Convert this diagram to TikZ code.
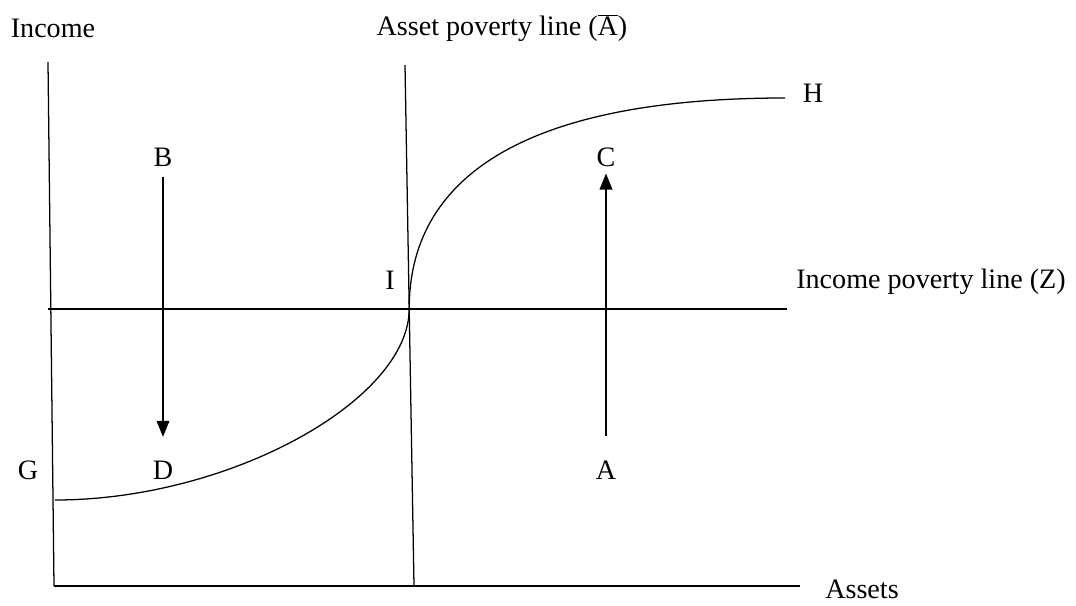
\documentclass[tikz,border=0pt]{standalone}
\usepackage{fontspec}
\setmainfont{Liberation Serif}
\usetikzlibrary{arrows.meta}

\begin{document}
\begin{tikzpicture}[
    x=0.025cm, y=-0.025cm,
    every node/.style={font=\fontsize{20}{23}\selectfont},
    axis/.style={draw,line width=1.5pt},
    guide/.style={draw,line width=0.9pt},
    arr/.style={-{Triangle[length=4mm,width=3.2mm]},thick}
]
\useasboundingbox (0,0) rectangle (1076,605);

% axes and poverty lines
\coordinate (ytop) at (48,62);
\coordinate (orig) at (54,586);
\coordinate (xend) at (800,586);
\coordinate (atop) at (405,65);
\coordinate (abot) at (414,586);
\coordinate (zl) at (48,309);
\coordinate (zr) at (787,309);
\coordinate (g) at (55,500);
\coordinate (i) at (409.2,309);
\coordinate (h) at (785,98);

\draw[guide] (ytop) -- (orig);
\draw[axis] (orig) -- (xend);
\draw[guide] (atop) -- (abot);
\draw[guide] (zl) -- (zr);
\draw[line width=0.9pt] (g) .. controls (230,500) and (409,400) .. (i)
                 .. controls (409,180) and (520,98) .. (h);

\node (income) at (53,28) {Income};
\node (apl) at (502,28) {Asset poverty line (\(\overline{\hbox{A}}\))};
\node (ipl) at (931,282) {Income poverty line (Z)};
\node[inner sep=0pt] (assets) at (862,589) {Assets};
\node (H) at (813,93) {H};
\node (B) at (163,157) {B};
\node (C) at (606,157) {C};
\node (I) at (390,280) {I};
\node (G) at (28,470) {G};
\node (D) at (163,470) {D};
\node (A) at (606,470) {A};

% movements
\draw[arr,shorten <=4pt,shorten >=13.5pt] (B) -- (D);
\draw[arr,shorten <=14pt,shorten >=1.5pt] (A) -- (C);
\end{tikzpicture}
\end{document}
